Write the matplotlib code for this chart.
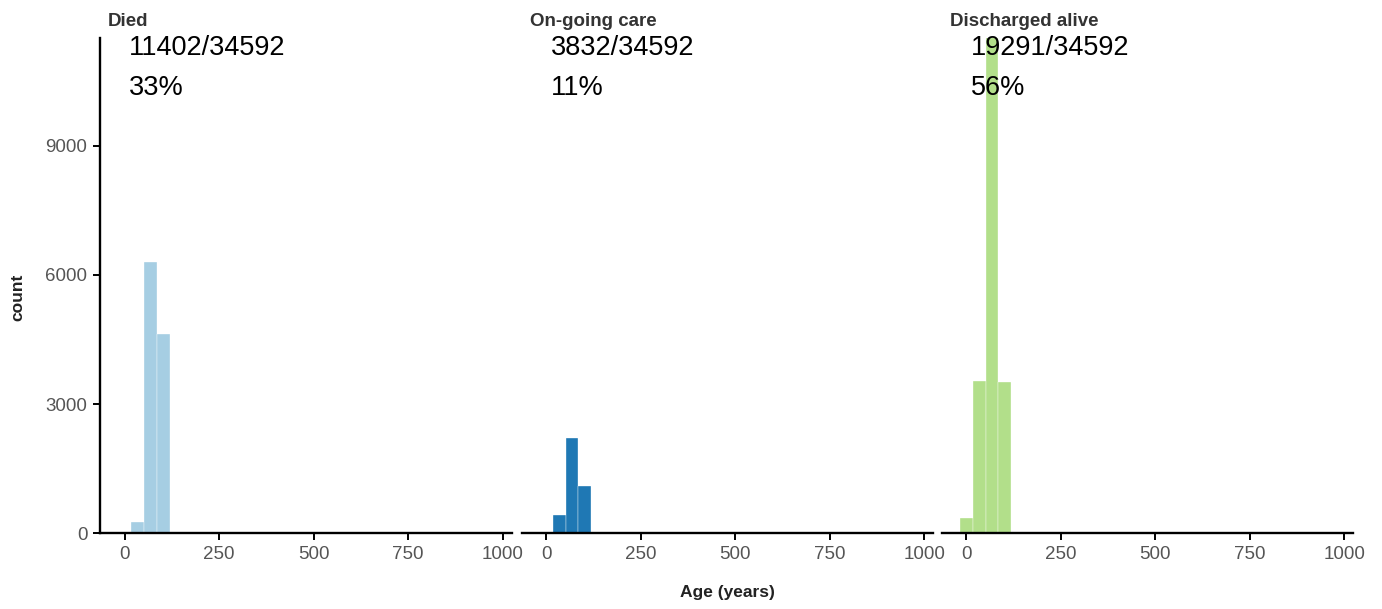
import numpy as np
import matplotlib
matplotlib.use("Agg")
from matplotlib import pyplot as plt

# histogram bins (age, years) shared by all panels
bin_edges = [-16, 17, 51, 85, 119]

outcomes = ["Died", "On-going care", "Discharged alive"]
died_counts = [0, 262, 6300, 4628]
ongoing_counts = [0, 418, 2213, 1107]
discharged_counts = [349, 3545, 11892, 3505]
n_outcome = [11402, 3832, 19291]
n_total = 34592
colors = ["#a6cee3", "#1f78b4", "#b2df8a"]

x_ticks = [0, 250, 500, 750, 1000]
y_ticks = [0, 3000, 6000, 9000]

plt.rcParams["font.family"] = ["Liberation Sans", "DejaVu Sans"]

W, H = 1382, 609
fig = plt.figure(figsize=(W / 100, H / 100), dpi=100)


def px_axes(left, right, top, bottom):
    return fig.add_axes([left / W, 1 - bottom / H, (right - left) / W, (bottom - top) / H])


panel_left = [100, 521.7, 941.7]
panel_w = 411.7
top_px, bottom_px = 38, 533.2
all_counts = [died_counts, ongoing_counts, discharged_counts]

for i in range(3):
    ax = px_axes(panel_left[i], panel_left[i] + panel_w, top_px, bottom_px)
    counts = all_counts[i]
    widths = np.diff(bin_edges)
    ax.bar(bin_edges[:-1], counts, width=widths, align="edge",
           color=colors[i], edgecolor="white", linewidth=0.25)
    ax.set_xlim(-65, 1024)
    ax.set_ylim(0, 11500)
    ax.set_xticks(x_ticks)
    for s in ["top", "right"]:
        ax.spines[s].set_visible(False)
    ax.spines["bottom"].set_linewidth(1.7)
    ax.spines["left"].set_linewidth(1.7)
    ax.tick_params(axis="both", direction="out", length=5, width=1.4,
                   labelsize=13.5, labelcolor="#555555", pad=4)
    if i == 0:
        ax.set_yticks(y_ticks)
    else:
        ax.spines["left"].set_visible(False)
        ax.set_yticks([])
    # panel title
    ax.text(8 / panel_w, (bottom_px - 26) / (bottom_px - top_px), outcomes[i],
            transform=ax.transAxes, fontsize=13.5, fontweight="bold",
            color="#333333", ha="left", va="baseline", clip_on=False)
    pct = round(100 * n_outcome[i] / n_total)
    ax.text(29 / panel_w, (bottom_px - 48) / (bottom_px - top_px),
            f"{n_outcome[i]}/{n_total}", transform=ax.transAxes,
            fontsize=19.5, ha="left", va="center", clip_on=False)
    ax.text(29 / panel_w, (bottom_px - 88) / (bottom_px - top_px),
            f"{pct}%", transform=ax.transAxes,
            fontsize=19.5, ha="left", va="center", clip_on=False)

fig.text(18 / W, 1 - 297 / H, "count", rotation=90, fontsize=12.5,
         fontweight="bold", color="#222222", ha="center", va="center")
fig.text(727 / W, 1 - 593 / H, "Age (years)", fontsize=12.5,
         fontweight="bold", color="#222222", ha="center", va="center")

fig.savefig("out.png", dpi=100, facecolor="white")
